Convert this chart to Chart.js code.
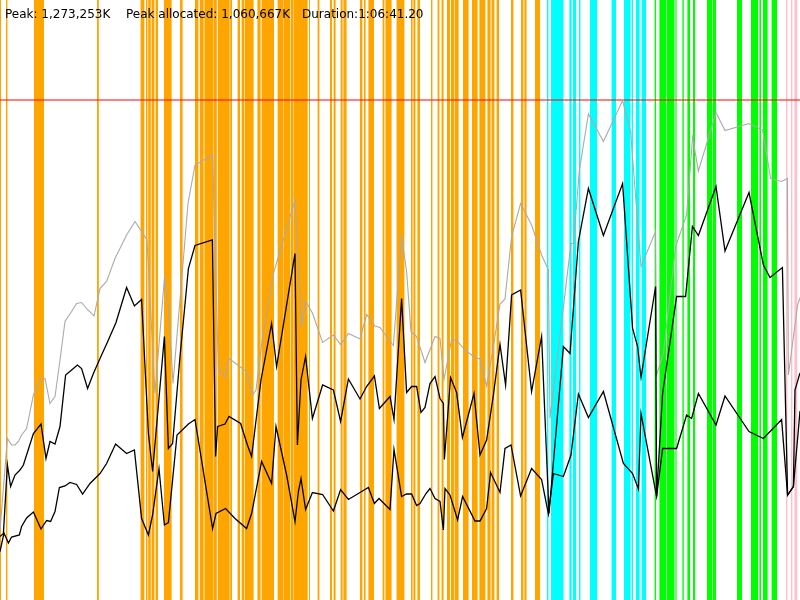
<!DOCTYPE html>
<html>
<head>
<meta charset="utf-8">
<title>Memory usage</title>
<script src="https://cdn.jsdelivr.net/npm/chart.js@4.4.1/dist/chart.umd.min.js"></script>
<style>
  body { margin: 0; background: #fff; }
  canvas { display: block; }
</style>
</head>
<body>
<canvas id="memChart" width="800" height="600"></canvas>
<script>
// time axis is in seconds (run lasted 1:06:41), memory is % of peak (1,273,253K)
const headerLabels = ['Peak: 1,273,253K', 'Peak allocated: 1,060,667K', 'Duration:1:06:41.20'];
const PEAK = 100;
const TOP = 120;
const END = 4000;

// phase bands as [start, end] seconds
const orangeBands = [[0,5],[30,37],[170,220],[485,494],[703,722],[730,737],[741,754],[758,772],[778,790],
  [820,858],[900,913],[975,992],[999,1018],[1022,1068],[1070,1084],[1089,1148],[1151,1160],[1188,1200],
  [1208,1222],[1225,1268],[1287,1303],[1308,1370],[1388,1415],[1417,1452],[1455,1468],[1470,1538],
  [1545,1550],[1588,1597],[1650,1660],[1668,1678],[1703,1713],[1717,1733],[1800,1812],[1820,1828],
  [1842,1870],[1913,1922],[1927,1958],[1983,2022],[2055,2063],[2067,2077],[2087,2100],[2155,2162],
  [2188,2197],[2208,2218],[2235,2250],[2255,2272],[2275,2293],[2315,2343],[2360,2388],[2397,2427],
  [2437,2453],[2458,2472],[2483,2495],[2555,2567],[2605,2617],[2622,2633],[2675,2700]];
const cyanBands = [[2735,2742],[2755,2817],[2847,2858],[2865,2880],[2895,2902],[2950,2985],[3058,3080],
  [3120,3152],[3158,3165],[3180,3198],[3208,3230]];
const greenBands = [[3272,3280],[3297,3330],[3333,3372],[3377,3383],[3412,3419],[3437,3450],[3465,3475],
  [3535,3562],[3565,3580],[3685,3710],[3755,3790],[3797,3805],[3815,3838],[3858,3885]];
const pinkBands = [[3930,3937],[3955,3962],[3972,3987]];

// total (gray)
const totalTime = [0,37,58,75,92,108,133,167,200,225,250,275,300,325,358,383,408,437,470,500,533,575,633,675,
  735,775,822,842,865,940,975,1063,1092,1128,1145,1233,1263,1280,1313,1367,1475,1508,1530,1563,1613,1667,
  1703,1742,1800,1833,1875,1900,1933,1967,2008,2033,2055,2083,2125,2175,2200,2220,2258,2283,2325,2375,
  2400,2433,2467,2500,2525,2558,2603,2658,2708,2742,2750,2855,2867,2897,2942,3017,3113,3153,3205,3278,
  3283,3317,3378,3433,3463,3492,3580,3625,3745,3813,3853,3908,3937,3942,3988,4000];
const totalMem = [14.0,32.3,31.0,31.0,31.7,33.0,34.3,41.0,44.0,44.3,39.3,40.7,48.0,55.7,57.7,59.3,59.5,58.1,
  56.8,62.3,63.7,68.3,73.0,75.7,72.0,41.3,64.3,59.0,43.3,79.3,87.0,89.0,46.0,44.7,48.3,45.7,41.0,42.0,52.7,
  65.3,80.0,55.0,59.7,57.3,51.5,53.0,51.1,53.3,52.2,57.1,54.8,54.5,52.7,50.9,72.7,65.7,53.7,52.7,47.5,52.7,
  52.3,44.1,52.1,51.9,50.0,48.5,48.2,42.8,50.7,59.2,60.2,72.7,79.3,75.0,69.0,66.0,36.3,71.3,71.3,86.0,97.2,
  91.7,99.9,93.7,66.7,73.7,45.0,49.3,70.7,77.0,92.5,85.8,97.5,93.9,95.3,94.0,84.3,83.7,84.3,45.0,59.0,60.4];

// allocated (upper black)
const allocTime = [0,17,37,53,75,100,117,167,205,230,250,275,300,328,358,387,408,438,467,500,542,580,633,672,
  708,742,763,822,842,863,900,942,975,1062,1078,1088,1125,1145,1203,1237,1258,1305,1358,1383,1475,1487,
  1505,1528,1562,1613,1667,1703,1742,1800,1833,1872,1897,1950,1970,2008,2033,2058,2083,2105,2125,2150,
  2175,2200,2217,2222,2253,2283,2312,2370,2400,2433,2467,2500,2528,2558,2603,2658,2708,2745,2817,2850,
  2892,2942,3017,3113,3163,3188,3205,3278,3283,3313,3383,3428,3462,3492,3580,3625,3745,3817,3850,3912,
  3938,3967,3975,4000];
const allocMem = [12.7,13.3,27.0,22.7,25.0,26.0,27.0,33.3,35.2,28.3,31.7,31.2,34.7,45.0,46.0,47.0,46.3,42.3,
  45.3,48.3,52.0,55.5,62.5,58.8,60.1,33.3,25.7,52.7,30.3,31.3,48.7,66.3,70.9,72.0,28.7,34.7,35.2,36.7,35.3,
  31.0,28.7,44.0,55.3,46.7,69.3,31.0,44.0,48.7,36.3,43.0,42.0,35.7,44.2,40.2,42.7,44.8,38.3,40.7,36.1,60.3,
  41.5,42.7,42.7,37.5,38.5,43.3,44.7,40.3,39.3,28.1,44.5,41.5,32.5,41.3,29.0,32.0,41.0,51.1,43.0,61.0,62.0,
  41.7,52.7,17.3,50.7,49.3,71.7,82.3,72.9,83.3,54.3,50.7,44.5,62.7,20.7,41.3,60.7,60.7,74.7,72.9,82.7,69.8,
  81.5,67.0,64.5,66.5,21.0,22.7,42.0,45.4];

// in use (lower black)
const usedTime = [0,20,42,58,97,108,133,167,205,233,253,275,297,325,350,383,413,450,500,533,578,633,672,708,
  742,763,795,822,842,885,942,975,1063,1080,1128,1175,1233,1258,1308,1358,1380,1433,1475,1492,1505,1528,
  1562,1613,1667,1703,1742,1800,1842,1872,1895,1950,1970,2008,2033,2058,2083,2100,2130,2150,2175,2200,
  2217,2225,2250,2288,2313,2375,2400,2433,2453,2500,2525,2555,2603,2658,2708,2742,2767,2817,2855,2892,
  2942,3017,3117,3163,3192,3205,3283,3313,3383,3433,3458,3492,3580,3625,3745,3817,3908,3938,3967,4000];
const usedMem = [9.7,13.4,11.4,12.6,13.0,14.7,16.4,17.6,14.2,15.9,15.7,17.7,22.5,22.8,23.5,23.1,21.2,23.3,
  25.3,27.3,31.2,29.3,30.0,16.3,13.0,17.0,26.3,15.0,15.5,33.0,35.2,36.1,14.3,17.3,18.3,16.3,14.3,17.3,27.7,
  23.3,34.7,25.0,15.7,21.7,24.3,18.1,21.5,21.1,17.8,22.1,20.1,21.5,22.5,19.3,20.3,18.1,30.1,20.7,21.2,21.2,
  18.9,19.3,21.3,22.3,20.3,19.7,14.0,22.3,21.0,16.0,20.7,15.8,15.8,18.3,25.5,21.5,30.3,31.0,20.8,26.3,24.1,
  17.2,25.3,24.7,29.0,41.2,36.5,41.7,27.3,25.3,22.2,37.3,20.7,30.3,30.3,37.0,36.3,41.3,35.0,40.8,33.7,32.3,
  36.1,21.0,22.7,37.8];

const toPoints = (times, values) => times.map((t, i) => ({ x: t, y: values[i] }));

// each band becomes a step up to the top and back down to zero
const bandPoints = (bands) => {
    const pts = [];
    bands.forEach(([s, e]) => {
        pts.push({ x: s, y: TOP });
        pts.push({ x: e, y: 0 });
    });
    return pts;
};

const bandSet = (label, bands, color) => ({
    label: label,
    data: bandPoints(bands),
    stepped: true,
    fill: 'origin',
    backgroundColor: color,
    borderWidth: 0,
    pointRadius: 0,
    order: 10
});

const lineSet = (label, times, values, color, width, order) => ({
    label: label,
    data: toPoints(times, values),
    borderColor: color,
    borderWidth: width,
    pointRadius: 0,
    fill: false,
    tension: 0,
    order: order
});

const headerText = {
    id: 'headerText',
    afterDatasetsDraw(chart) {
        const c = chart.ctx;
        const xs = [5, 126, 302];
        c.save();
        c.font = '12px "DejaVu Sans", sans-serif';
        c.fillStyle = '#000';
        headerLabels.forEach((txt, i) => c.fillText(txt, xs[i], 17.5));
        c.restore();
    }
};

const ctx = document.getElementById('memChart').getContext('2d');
new Chart(ctx, {
    type: 'line',
    data: {
        datasets: [
            lineSet('Allocated', allocTime, allocMem, '#000000', 1.3, 0),
            lineSet('In use', usedTime, usedMem, '#000000', 1.3, 1),
            lineSet('Total', totalTime, totalMem, '#aaaaaa', 1.1, 2),
            lineSet('Peak', [0, END], [PEAK, PEAK], '#ff0000', 1, 3),
            bandSet('Phase A', orangeBands, '#ffa500'),
            bandSet('Phase B', cyanBands, '#00ffff'),
            bandSet('Phase C', greenBands, '#00ff00'),
            bandSet('Phase D', pinkBands, '#ffc0cb')
        ]
    },
    options: {
        responsive: false,
        animation: false,
        layout: { padding: 0 },
        scales: {
            x: { type: 'linear', min: 0, max: END, display: false },
            y: { min: 0, max: TOP, display: false }
        },
        plugins: {
            legend: { display: false },
            tooltip: { enabled: false }
        }
    },
    plugins: [headerText]
});
</script>
</body>
</html>
